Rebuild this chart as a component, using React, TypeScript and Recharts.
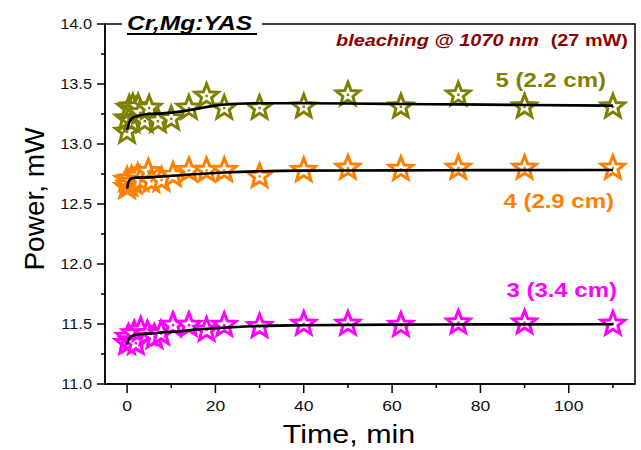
import React from "react";
import { ComposedChart, Scatter, Line, XAxis, YAxis, ReferenceArea } from "recharts";

// tick positions
const X_TICKS = [0, 10, 20, 30, 40, 50, 60, 70, 80, 90, 100, 110];
const Y_TICKS = [11, 11.25, 11.5, 11.75, 12, 12.25, 12.5, 12.75, 13, 13.25, 13.5, 13.75, 14];

// 5 (2.2 cm) measured points
const time5 = [0, 0, 0.5, 1, 1.3, 2, 2.5, 3, 4, 5, 7, 10, 14, 18, 22, 30, 40, 50, 62, 75, 90, 110];
const power5 = [13.1, 13.21, 13.3, 13.19, 13.31, 13.28, 13.31, 13.26, 13.19, 13.3, 13.19, 13.21, 13.3, 13.4, 13.3, 13.3, 13.31, 13.41, 13.31, 13.41, 13.31, 13.31];

// 4 (2.9 cm)
const time4 = [0, 0, 0.5, 1, 1.5, 2.4, 3, 4.8, 5.5, 7.8, 10.4, 14, 18, 22, 30, 40, 50, 62, 75, 90, 110];
const power4 = [12.64, 12.7, 12.66, 12.71, 12.68, 12.73, 12.7, 12.77, 12.69, 12.7, 12.74, 12.78, 12.78, 12.78, 12.73, 12.78, 12.8, 12.79, 12.8, 12.8, 12.8];

// 3 (3.4 cm)
const time3 = [0, 0.3, 1, 1.6, 2, 3.1, 4.6, 6.2, 7.7, 10.4, 14, 18, 22, 30, 40, 50, 62, 75, 90, 110];
const power3 = [11.34, 11.39, 11.36, 11.42, 11.34, 11.45, 11.42, 11.39, 11.42, 11.49, 11.49, 11.45, 11.49, 11.48, 11.5, 11.5, 11.49, 11.51, 11.51, 11.5];

// fitted curves
const fitTime5 = [0, 0.5, 1, 2, 3, 5, 8, 12, 16, 20, 25, 30, 40, 50, 62, 75, 90, 110];
const fitPower5 = [13.12, 13.18, 13.21, 13.23, 13.24, 13.25, 13.255, 13.27, 13.295, 13.32, 13.335, 13.34, 13.34, 13.337, 13.333, 13.33, 13.325, 13.32];
const fitTime = [0, 0.3, 0.7, 1.2, 2, 3, 5, 8, 12, 16, 22, 30, 40, 60, 80, 110];
const fitPower4 = [12.63, 12.68, 12.705, 12.715, 12.72, 12.72, 12.722, 12.73, 12.74, 12.75, 12.762, 12.773, 12.778, 12.78, 12.782, 12.783];
const fitPower3 = [11.33, 11.37, 11.39, 11.4, 11.41, 11.415, 11.42, 11.43, 11.44, 11.455, 11.47, 11.484, 11.49, 11.495, 11.497, 11.498];

const zip = (ts: number[], ps: number[]) => ts.map((t, i) => ({ t, p: ps[i] }));

const OLIVE = "#808000";
const ORANGE = "#ff8000";
const MAGENTA = "#ff00ff";
const FONT = "'Liberation Sans', Arial, sans-serif";
const SX = 1.17; // the reference is stretched horizontally

const starPath = (cx: number, cy: number, R: number, r: number) => {
  let d = "";
  for (let i = 0; i < 10; i++) {
    const rad = i % 2 === 0 ? R : r;
    const a = (Math.PI / 5) * i - Math.PI / 2;
    d += (i === 0 ? "M" : "L") + (cx + rad * Math.cos(a)).toFixed(2) + "," + (cy + rad * Math.sin(a)).toFixed(2);
  }
  return d + "Z";
};

const makeStar = (color: string) => (props: any) => {
  const { cx, cy } = props;
  if (cx == null || cy == null) return <g />;
  return (
    <g>
      <path d={starPath(cx, cy, 12.3, 5.3)} fill="#fff" stroke={color} strokeWidth={3} strokeLinejoin="miter" />
      <rect x={cx - 1.2} y={cy - 1.2} width={2.4} height={2.4} fill={color} />
    </g>
  );
};

const YTick = (props: any) => {
  const { x, y, payload } = props;
  const v = payload.value;
  const major = Math.abs(v * 2 - Math.round(v * 2)) < 1e-6;
  return (
    <g>
      <line x1={x} x2={x - (major ? 8 : 4)} y1={y} y2={y} stroke="#000" strokeWidth={1.5} />
      {major && (
        <text transform={`translate(${x - 13},${y}) scale(${SX},1)`} textAnchor="end" dy="0.36em" fontSize={14} fontFamily={FONT} fill="#111">
          {v.toFixed(1)}
        </text>
      )}
    </g>
  );
};

const XTick = (props: any) => {
  const { x, y, payload } = props;
  const v = payload.value;
  const major = v % 20 === 0;
  return (
    <g>
      <line x1={x} x2={x} y1={y} y2={y + (major ? 9 : 4)} stroke="#000" strokeWidth={1.5} />
      {major && (
        <text transform={`translate(${x},${y + 27}) scale(${SX},1)`} textAnchor="middle" fontSize={15} fontFamily={FONT} fill="#111">
          {v}
        </text>
      )}
    </g>
  );
};

const Stretched = ({ x, y, children, anchor = "start", ...rest }: any) => (
  <text transform={`translate(${x},${y}) scale(${SX},1)`} textAnchor={anchor} fontFamily={FONT} {...rest}>
    {children}
  </text>
);

export default function App() {
  return (
    <div style={{ position: "absolute", left: 0, top: 0, width: 641, height: 450, background: "#fff" }}>
      <ComposedChart width={641} height={450} margin={{ top: 24, right: 6, bottom: 0, left: 0 }}>
        <XAxis
          type="number"
          dataKey="t"
          domain={[-5, 115]}
          ticks={X_TICKS}
          height={66}
          tickSize={0}
          tickMargin={0}
          tick={<XTick />}
          axisLine={{ stroke: "#000", strokeWidth: 1.5 }}
          allowDataOverflow
        />
        <YAxis
          type="number"
          dataKey="p"
          domain={[11, 14]}
          ticks={Y_TICKS}
          width={105}
          tickSize={0}
          tickMargin={0}
          tick={<YTick />}
          axisLine={{ stroke: "#000", strokeWidth: 1.5 }}
          allowDataOverflow
        />
        <ReferenceArea x1={-5} x2={115} y1={11} y2={14} fill="none" stroke="#000" strokeWidth={1.5} />
        <Scatter data={zip(time5, power5)} dataKey="p" shape={makeStar(OLIVE)} isAnimationActive={false} />
        <Scatter data={zip(time4, power4)} dataKey="p" shape={makeStar(ORANGE)} isAnimationActive={false} />
        <Scatter data={zip(time3, power3)} dataKey="p" shape={makeStar(MAGENTA)} isAnimationActive={false} />
        <Line data={zip(fitTime5, fitPower5)} dataKey="p" type="monotone" stroke="#000" strokeWidth={2.6} dot={false} activeDot={false} isAnimationActive={false} zIndex={900} />
        <Line data={zip(fitTime, fitPower4)} dataKey="p" type="monotone" stroke="#000" strokeWidth={2.6} dot={false} activeDot={false} isAnimationActive={false} zIndex={900} />
        <Line data={zip(fitTime, fitPower3)} dataKey="p" type="monotone" stroke="#000" strokeWidth={2.6} dot={false} activeDot={false} isAnimationActive={false} zIndex={900} />
      </ComposedChart>
      <svg width={641} height={450} style={{ position: "absolute", left: 0, top: 0, pointerEvents: "none" }}>
        <rect x={122} y={10} width={140} height={28} fill="#fff" />
        <Stretched x={127} y={30} fontSize={21} fontWeight="bold" fontStyle="italic" fill="#000">
          Cr,Mg:YAS
        </Stretched>
        <line x1={127} x2={257} y1={34} y2={34} stroke="#000" strokeWidth={2} />
        <Stretched x={336} y={46} fontSize={17} fontWeight="bold" fontStyle="italic" fill="#8b0000">
          bleaching @ 1070 nm
        </Stretched>
        <Stretched x={628} y={46} anchor="end" fontSize={17} fontWeight="bold" fill="#8b0000">
          (27 mW)
        </Stretched>
        <Stretched x={606} y={87} anchor="end" fontSize={20.5} fontWeight="bold" fill={OLIVE}>
          5 (2.2 cm)
        </Stretched>
        <Stretched x={614} y={208} anchor="end" fontSize={20.5} fontWeight="bold" fill={ORANGE}>
          4 (2.9 cm)
        </Stretched>
        <Stretched x={617} y={297} anchor="end" fontSize={20.5} fontWeight="bold" fill={MAGENTA}>
          3 (3.4 cm)
        </Stretched>
        <text transform="translate(44,199) rotate(-90)" textAnchor="middle" fontSize={28} fontFamily={FONT} fill="#000">
          Power, mW
        </text>
        <Stretched x={349} y={443} anchor="middle" fontSize={26} fill="#000">
          Time, min
        </Stretched>
      </svg>
    </div>
  );
}
